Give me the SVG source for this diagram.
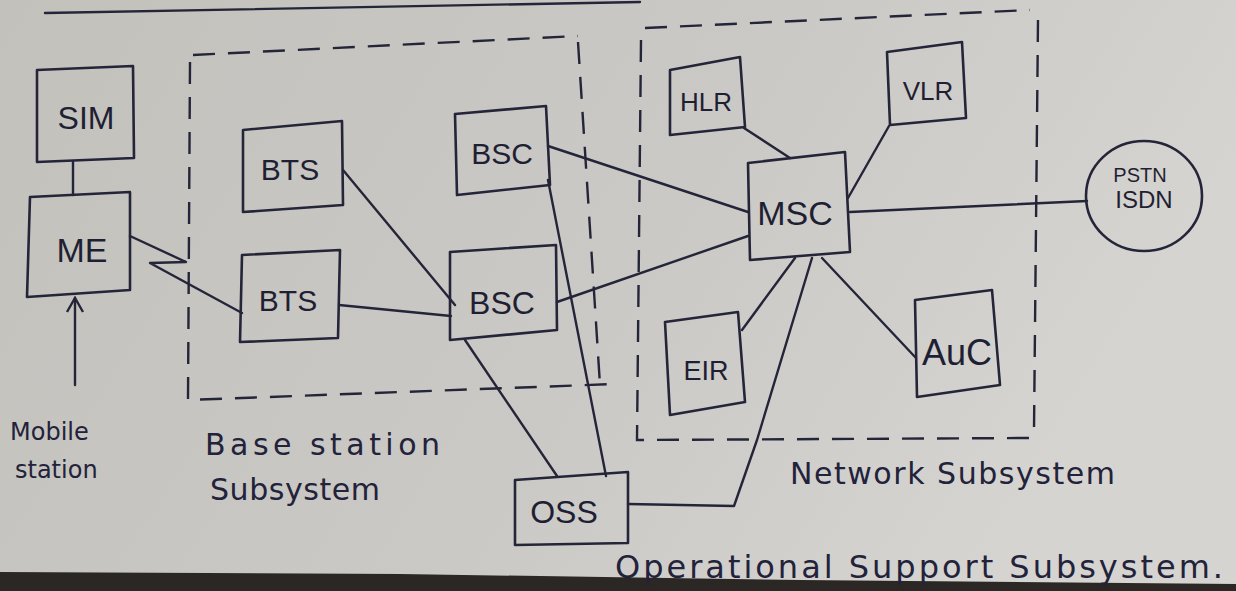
<svg xmlns="http://www.w3.org/2000/svg" width="1236" height="591" viewBox="0 0 1236 591">
<defs>
<linearGradient id="paper" x1="0" y1="0" x2="1" y2="0.3">
<stop offset="0" stop-color="#c3c1bc"/>
<stop offset="0.6" stop-color="#cbc9c5"/>
<stop offset="1" stop-color="#d6d4d0"/>
</linearGradient>
<marker id="arr" viewBox="0 0 20 20" refX="17" refY="10" markerWidth="20" markerHeight="20" markerUnits="userSpaceOnUse" orient="auto">
<path d="M3,2 L17,10 L3,18" fill="none" stroke="#25253a" stroke-width="2.4"/>
</marker>
<style>
.ink{fill:none;stroke:#25253a;stroke-width:2.4;stroke-linejoin:round;stroke-linecap:round}
.box{fill:none;stroke:#25253a;stroke-width:2.6;stroke-linejoin:round}
.dash{fill:none;stroke:#25253a;stroke-width:2.4;stroke-dasharray:22 13}
.lbl{font-family:"Liberation Sans",Arial,sans-serif;fill:#1f1f33;text-anchor:middle}
.note{font-family:"DejaVu Sans","Liberation Sans",sans-serif;fill:#22223a}
</style>
</defs>
<rect width="1236" height="591" fill="url(#paper)"/>
<polygon points="0,572 400,574 800,580 1236,584 1236,591 0,591" fill="#2b2724"/>
<path class="ink" d="M45,13 L640,2"/>

<g id="groups">
<path class="dash" d="M193,55 L578,36 M190,62 L188,400 L615,384 M578,42 L600,385"/>
<path class="dash" d="M645,28 L1030,10 M641,40 L637,440 L1030,438 M1038,20 L1034,430"/>
</g>

<g id="connectors">
<path class="ink" d="M73,162 L73,195"/>
<path class="ink" d="M75,385 L75,298" marker-end="url(#arr)"/>
<polyline class="ink" points="130,236 186,262 150,263 242,313"/>
<path class="ink" d="M343,170 L455,305"/>
<path class="ink" d="M339,305 L451,316"/>
<path class="ink" d="M548,146 L748,212"/>
<path class="ink" d="M548,180 L606,476"/>
<path class="ink" d="M557,302 L748,236"/>
<path class="ink" d="M465,340 L557,476"/>
<path class="ink" d="M790,158 L744,128"/>
<path class="ink" d="M848,198 L889,126"/>
<path class="ink" d="M850,212 L1087,201"/>
<path class="ink" d="M795,258 L742,330"/>
<path class="ink" d="M822,258 L916,358"/>
<path class="ink" d="M812,258 L757,440 L734,506 L628,504"/>
</g>

<g id="SIM"><polygon class="box" points="37,70 133,66 134,158 37,162"/><text class="lbl" x="86" y="129" font-size="32">SIM</text></g>
<g id="ME"><polygon class="box" points="30,197 130,192 130,290 27,297"/><text class="lbl" x="82" y="262" font-size="34">ME</text></g>
<g id="BTS1"><polygon class="box" points="243,130 342,121 343,205 243,212"/><text class="lbl" x="290" y="180" font-size="30">BTS</text></g>
<g id="BTS2"><polygon class="box" points="242,255 340,250 338,338 240,342"/><text class="lbl" x="288" y="311" font-size="30">BTS</text></g>
<g id="BSC1"><polygon class="box" points="455,114 546,106 550,185 457,195"/><text class="lbl" x="502" y="164" font-size="30">BSC</text></g>
<g id="BSC2"><polygon class="box" points="450,252 556,245 557,330 450,340"/><text class="lbl" x="502" y="314" font-size="32">BSC</text></g>
<g id="MSC"><polygon class="box" points="748,163 845,152 850,252 750,260"/><text class="lbl" x="795" y="225" font-size="34">MSC</text></g>
<g id="HLR"><polygon class="box" points="670,70 740,57 745,127 670,135"/><text class="lbl" x="706" y="111" font-size="26">HLR</text></g>
<g id="VLR"><polygon class="box" points="887,52 962,42 966,118 890,125"/><text class="lbl" x="928" y="100" font-size="26">VLR</text></g>
<g id="PSTN"><ellipse class="box" cx="1144" cy="196" rx="58" ry="55"/><text class="lbl" x="1140" y="182" font-size="20">PSTN</text><text class="lbl" x="1144" y="208" font-size="24">ISDN</text></g>
<g id="EIR"><polygon class="box" points="665,322 738,312 745,402 670,415"/><text class="lbl" x="706" y="380" font-size="27">EIR</text></g>
<g id="AuC"><polygon class="box" points="915,300 992,290 1000,385 917,397"/><text class="lbl" x="957" y="365" font-size="36">AuC</text></g>
<g id="OSS"><polygon class="box" points="515,480 628,472 628,543 515,545"/><text class="lbl" x="564" y="523" font-size="32">OSS</text></g>

<g id="labels">
<text class="note" x="10" y="440" font-size="24">Mobile</text>
<text class="note" x="15" y="478" font-size="24">station</text>
<text class="note" x="205" y="455" font-size="30" textLength="235" lengthAdjust="spacing">Base station</text>
<text class="note" x="210" y="500" font-size="30" textLength="170" lengthAdjust="spacing">Subsystem</text>
<text class="note" x="790" y="484" font-size="30" textLength="325" lengthAdjust="spacing">Network Subsystem</text>
<text class="note" x="615" y="578" font-size="32" textLength="608" lengthAdjust="spacing">Operational Support Subsystem.</text>
</g>
</svg>
